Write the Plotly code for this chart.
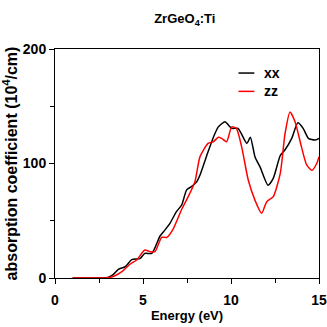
"""Absorption spectrum of ZrGeO4:Ti, xx vs zz polarisation."""

import plotly.graph_objects as go

# photon energy (eV) and absorption coefficient (10^4/cm)
energy_xx = [1.0, 2.0, 3.0, 3.3, 3.6, 4.0, 4.36, 4.83, 5.1, 5.5, 5.97, 6.25,
             6.53, 6.9, 7.2, 7.48, 7.77, 8.05, 8.24, 8.6, 9.0, 9.28, 9.66,
             9.85, 10.04, 10.4, 10.9, 11.1, 11.36, 11.65, 12.1, 12.4, 12.8,
             13.07, 13.45, 13.8, 14.1, 14.4, 14.77, 15.0]
alpha_xx = [0, 0, 0.5, 3, 7.6, 10, 16, 17, 21.5, 21.5, 36.7, 42,
            47.7, 58, 63.8, 77, 80, 84, 90, 106, 123, 132, 136.5,
            133.6, 130.7, 130.7, 117.6, 123, 106, 97, 81, 87, 107,
            112, 122, 135.6, 130.7, 122, 120.5, 122]

energy_zz = [1.0, 2.0, 3.0, 3.4, 3.8, 4.26, 4.64, 5.1, 5.4, 5.68, 6.06, 6.35,
             6.72, 7.2, 7.57, 7.95, 8.24, 8.7, 9.0, 9.28, 9.47, 9.75, 10.04,
             10.3, 10.6, 10.98, 11.36, 11.74, 12.03, 12.4, 12.8, 13.07, 13.35,
             13.64, 14.0, 14.3, 14.6, 14.87, 15.0]
alpha_zz = [0, 0, 0.3, 2, 5.5, 12, 15.7, 24.5, 23, 23, 35.5, 35.5,
            43, 60, 71, 84, 106, 117.6, 119, 123, 122, 119, 132,
            130.7, 115, 85.6, 68, 56.5, 66.6, 71, 91.4, 126, 145,
            136.5, 114.7, 98.7, 94, 100, 106]

series = [("xx", energy_xx, alpha_xx, "black"),
          ("zz", energy_zz, alpha_zz, "red")]

FAMILY = "Liberation Sans, Arial, sans-serif"


def font(size):
    return dict(family=FAMILY, size=size, color="black", weight="bold")


fig = go.Figure()
for name, x, y, color in series:
    fig.add_scatter(x=x, y=y, mode="lines", name=name, showlegend=False,
                    line=dict(color=color, width=1.5, shape="spline",
                              smoothing=0.6))

# small hand-made legend: short line + label, top right of the plot
for i, (name, _, _, color) in enumerate(series):
    ly = 0.895 - i * 0.08
    fig.add_shape(type="line", xref="paper", yref="paper",
                  x0=0.695, x1=0.755, y0=ly, y1=ly,
                  line=dict(color=color, width=1.5))
    fig.add_annotation(text=name, xref="paper", yref="paper", x=0.783, y=ly,
                       xanchor="left", yanchor="middle", showarrow=False,
                       font=font(14))

axis = dict(showline=True, linecolor="black", linewidth=1, mirror=True,
            ticks="outside", ticklen=5, tickcolor="black", showgrid=False,
            zeroline=False, tickfont=font(14), automargin=False)

fig.update_layout(
    width=327, height=327,
    margin=dict(l=55, r=8, t=49, b=49),
    plot_bgcolor="white", paper_bgcolor="white",
    font=font(13),
    title=dict(text="ZrGeO<sub>4</sub>:Ti", x=0.565, xanchor="center",
               y=0.943, yanchor="middle", font=font(13)),
    xaxis=dict(axis, range=[0, 15], tickvals=[0, 5, 10, 15],
               ticklabelstandoff=4,
               minor=dict(tickvals=[2.5, 7.5, 12.5], ticks="outside",
                          ticklen=4, tickcolor="black"),
               title=dict(text="Energy (eV)", font=font(13), standoff=4)),
    yaxis=dict(axis, range=[0, 200], tickvals=[0, 100, 200],
               minor=dict(tickvals=[50, 150], ticks="outside",
                          ticklen=4, tickcolor="black"),
               title=dict(text="absorption coefficient (10<sup>4</sup>/cm)",
                          font=font(16), standoff=4)),
)

# the browser's default 8px body margin would shift the chart; drop it
fig.write_html("out.html", config={"displayModeBar": False},
               post_script="document.body.style.margin='0px';")
